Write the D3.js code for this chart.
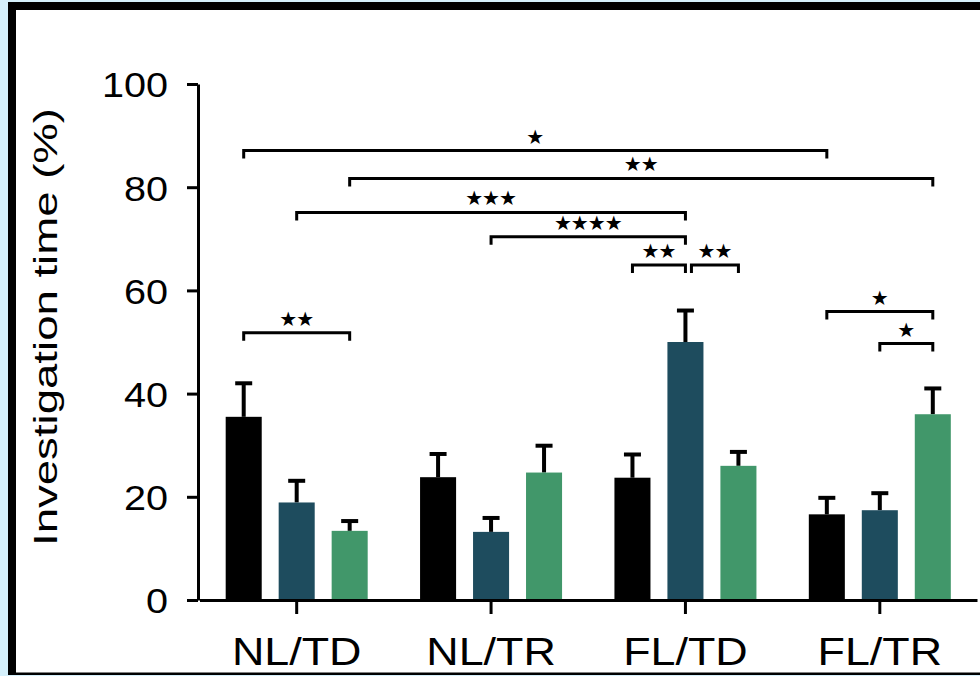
<!DOCTYPE html>
<head>
  <meta charset="utf-8">
  <script src="https://cdn.jsdelivr.net/npm/d3@7"></script>
<style>
body { margin:0; background:#d5f0fb; }
svg { display:block; }
.axis path, .axis line { stroke:#000; stroke-width:3px; }
.axis text { fill:#000; font-family:"Liberation Sans", Arial, sans-serif; }
</style>
</head>

<body>
<script>
// categories on the x axis
var categories = ["NL/TD", "NL/TR", "FL/TD", "FL/TR"];
// the three bar series (black, dark teal, green)
var seriesNames = ["black", "teal", "green"];
var seriesColors = ["#000000", "#1e4c5e", "#41976a"];

// means and error (SEM) per series, in category order
var meanBlack = [35.5, 23.8, 23.7, 16.6];
var errBlack  = [6.5, 4.5, 4.5, 3.2];
var meanTeal  = [18.9, 13.2, 50.0, 17.4];
var errTeal   = [4.2, 2.7, 6.1, 3.3];
var meanGreen = [13.4, 24.7, 26.0, 36.0];
var errGreen  = [1.9, 5.2, 2.7, 5.0];

var yTicks = [0, 20, 40, 60, 80, 100];

// significance brackets: [category, series] at each end, level in %
var brackets = [
  {from: [0, 0], to: [3, 0], level: 87.1, label: "*"},
  {from: [0, 2], to: [3, 2], level: 81.7, label: "**"},
  {from: [0, 1], to: [2, 1], level: 75.1, label: "***"},
  {from: [1, 1], to: [2, 1], level: 70.4, label: "****"},
  {from: [2, 0], to: [2, 1], level: 64.9, label: "**"},
  {from: [2, 1], to: [2, 2], level: 64.9, label: "**"},
  {from: [3, 0], to: [3, 2], level: 55.9, label: "*"},
  {from: [3, 1], to: [3, 2], level: 49.7, label: "*"},
  {from: [0, 0], to: [0, 2], level: 51.8, label: "**"}
];

var means = [meanBlack, meanTeal, meanGreen];
var errs = [errBlack, errTeal, errGreen];

var W = 980, H = 676;

var svg = d3.select("body").append("svg")
    .attr("width", W)
    .attr("height", H);

// frame: white panel with black left/top/bottom border
svg.append("rect").attr("x", 8).attr("y", 2).attr("width", W).attr("height", 673).attr("fill", "#000");
svg.append("rect").attr("x", 16).attr("y", 10).attr("width", W).attr("height", 662.5).attr("fill", "#fff");

// scales
var y = d3.scaleLinear().domain([0, 100]).range([600, 84]);
var x0 = d3.scaleBand().domain(categories).range([199.5, 977]).padding(0);
var x1 = d3.scaleBand().domain(seriesNames).range([-71, 71]).paddingInner(0.32).paddingOuter(0);

function barCenter(ci, si) {
  return x0(categories[ci]) + x0.bandwidth() / 2 + x1(seriesNames[si]) + x1.bandwidth() / 2;
}

// flatten data for drawing
var rows = [];
categories.forEach((c, ci) => {
  seriesNames.forEach((s, si) => {
    rows.push({ci: ci, si: si, mean: means[si][ci], err: errs[si][ci]});
  });
});

// error bars (drawn first, bars cover the lower part)
var eb = svg.append("g");
eb.selectAll("line.stem").data(rows).enter().append("line")
    .attr("x1", d => barCenter(d.ci, d.si))
    .attr("x2", d => barCenter(d.ci, d.si))
    .attr("y1", d => y(d.mean))
    .attr("y2", d => y(d.mean + d.err))
    .attr("stroke", "#000").attr("stroke-width", 4);
eb.selectAll("line.cap").data(rows).enter().append("line")
    .attr("x1", d => barCenter(d.ci, d.si) - 8.5)
    .attr("x2", d => barCenter(d.ci, d.si) + 8.5)
    .attr("y1", d => y(d.mean + d.err))
    .attr("y2", d => y(d.mean + d.err))
    .attr("stroke", "#000").attr("stroke-width", 4);

// bars
svg.append("g").selectAll("rect").data(rows).enter().append("rect")
    .attr("x", d => barCenter(d.ci, d.si) - x1.bandwidth() / 2)
    .attr("width", x1.bandwidth())
    .attr("y", d => y(d.mean))
    .attr("height", d => y(0) - y(d.mean))
    .attr("fill", d => seriesColors[d.si]);

// x axis
var gx = svg.append("g")
    .attr("class", "axis")
    .attr("transform", "translate(0,600)")
    .call(d3.axisBottom(x0).tickSize(14).tickSizeOuter(0));
gx.selectAll("text")
    .attr("y", 0)
    .attr("dy", 0)
    .style("font-size", "39px")
    .attr("transform", "translate(0,65) scale(1.15,1)");

// y axis
var gy = svg.append("g")
    .attr("class", "axis")
    .attr("transform", "translate(198,0)")
    .call(d3.axisLeft(y).tickValues(yTicks).tickSize(11).tickSizeOuter(0));
gy.selectAll("text")
    .attr("x", -30 / 1.1)
    .attr("dy", "0.36em")
    .style("font-size", "36px")
    .attr("transform", "scale(1.1,1)");

// y axis title
svg.append("text")
    .attr("transform", "translate(57,327) rotate(-90)")
    .attr("text-anchor", "middle")
    .attr("textLength", 438)
    .attr("lengthAdjust", "spacingAndGlyphs")
    .style("font-family", "'Liberation Sans', Arial, sans-serif")
    .style("font-size", "34px")
    .text("Investigation time (%)");

// significance brackets
var gb = svg.append("g");
brackets.forEach((b, i) => {
  var xa = barCenter(b.from[0], b.from[1]);
  var xb = barCenter(b.to[0], b.to[1]);
  // leave a small gap where two brackets at the same level meet
  brackets.forEach((o, j) => {
    if (j !== i && o.level === b.level && o.to[0] === b.from[0] && o.to[1] === b.from[1]) xa += 6;
  });
  var yy = y(b.level);
  gb.append("path")
      .attr("d", "M" + xa + "," + (yy + 8) + "V" + yy + "H" + xb + "V" + (yy + 8))
      .attr("fill", "none")
      .attr("stroke", "#000")
      .attr("stroke-width", 3);
  gb.append("text")
      .attr("x", (xa + xb) / 2 - 0.5)
      .attr("y", yy - 7)
      .attr("text-anchor", "middle")
      .style("font-family", "'DejaVu Sans', sans-serif")
      .style("font-size", "20px")
      .style("letter-spacing", "-1px")
      .text(b.label.replace(/\*/g, "\u2605"));
});
</script>
</body>
